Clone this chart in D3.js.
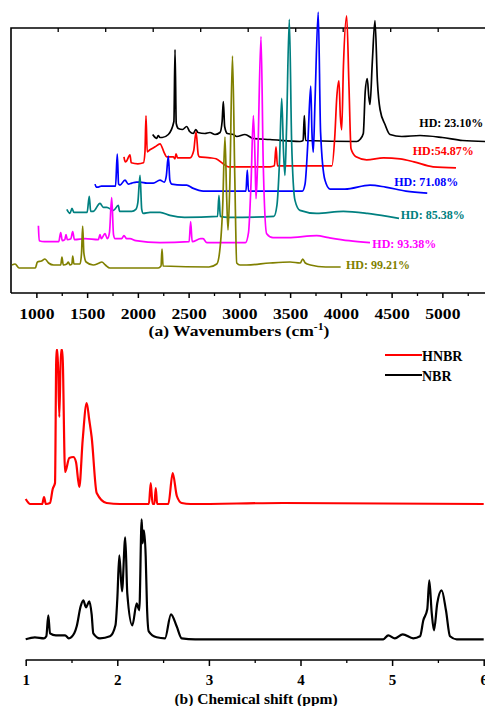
<!DOCTYPE html>
<html>
<head>
<meta charset="utf-8">
<script src="https://cdn.jsdelivr.net/npm/d3@7"></script>
<style>
    body { margin: 0; background: #fff; }
    svg { display: block; font-family: "Liberation Serif", "Times New Roman", serif; font-weight: bold; }
</style>
</head>
<body>
<div id="chart"></div>
<script>
// FTIR spectra, [wavenumber (cm-1), absorbance above the trace's own baseline]
const hd9921 = [[760, 3], [790, 4], [830, 0], [990, 0], [1010, 6], [1050, 7], [1085, 9], [1120, 5], [1170, 3], [1240, 3],
    [1252, 11], [1265, 3], [1300, 4], [1315, 6], [1330, 3], [1350, 4], [1358, 12], [1370, 4], [1430, 4], [1445, 15],
    [1456, 42], [1468, 15], [1490, 6], [1560, 3], [1620, 5], [1645, 6], [1680, 3], [1725, 0], [2200, 0], [2228, 2],
    [2238, 19], [2248, 2], [2700, 1], [2777, 4], [2800, 12], [2835, 60], [2858, 131], [2875, 70], [2888, 38], [2905, 80],
    [2932, 212], [2955, 90], [2974, 5], [3006, 3], [3072, 3], [3300, 5], [3500, 6], [3600, 5], [3624, 9], [3650, 5],
    [3700, 3], [3850, 1], [3998, 1]];
const hd9338 = [[740, 17], [748, 2], [800, 1], [940, 1], [960, 10], [975, 2], [1000, 3], [1012, 8], [1025, 3], [1060, 4],
    [1078, 11], [1095, 3], [1200, 4], [1330, 3], [1347, 8], [1360, 4], [1396, 9], [1420, 4], [1440, 10], [1462, 45],
    [1480, 8], [1495, 4], [1560, 4], [1583, 7], [1610, 4], [1642, 4], [1700, 2], [1938, 0], [2225, 1], [2240, 21],
    [2255, 1], [2339, 4], [2362, 4], [2400, 0], [2780, 0], [2810, 10], [2835, 60], [2858, 127], [2875, 80], [2884, 44],
    [2900, 80], [2933, 206], [2955, 80], [2989, 9], [3051, 5], [3200, 5], [3482, 7], [3600, 5], [3800, 2], [4007, 0]];
const hd8538 = [[740, 8], [771, 4], [791, 9], [810, 5], [940, 5], [961, 21], [975, 6], [1000, 6], [1067, 14], [1100, 10],
    [1133, 10], [1200, 7], [1247, 12], [1260, 6], [1380, 6], [1420, 8], [1440, 15], [1461, 42], [1478, 8], [1493, 4],
    [1560, 5], [1658, 5], [1756, 2], [1900, 0], [2225, 1], [2239, 22], [2252, 1], [2331, 0], [2780, 1], [2810, 12],
    [2835, 55], [2857, 119], [2875, 65], [2889, 42], [2905, 90], [2932, 198], [2955, 75], [2988, 17], [3037, 7], [3200, 4],
    [3464, 6], [3700, 4], [3900, 1], [4013, -1]];
const hd7108 = [[738, 8], [750, 5], [770, 5], [800, 6], [940, 6], [957, 38], [970, 8], [984, 7], [1033, 12], [1066, 8],
    [1100, 9], [1148, 10], [1181, 10], [1250, 9], [1312, 9], [1378, 12], [1420, 10], [1440, 16], [1460, 36], [1475, 12],
    [1493, 8], [1600, 7], [1641, 7], [1700, 4], [1805, 1], [2225, 1], [2238, 22], [2250, 1], [2780, 1], [2807, 8],
    [2835, 50], [2863, 106], [2875, 60], [2888, 40], [2905, 90], [2937, 180], [2960, 60], [3003, 12], [3053, 3], [3200, 3],
    [3447, 7], [3600, 5], [3800, 1], [4011, -1]];
const hd5487 = [[743, 10], [755, 5], [770, 6], [802, 12], [815, 4], [880, 3], [935, 4], [950, 15], [960, 51], [972, 15],
    [999, 17], [1050, 20], [1098, 23], [1140, 14], [1164, 10], [1229, 10], [1245, 8], [1256, 13], [1270, 9], [1394, 9],
    [1430, 16], [1453, 35], [1475, 12], [1485, 10], [1591, 9], [1650, 8], [1720, 3], [1771, 0], [2182, 0], [2225, 1],
    [2241, 20], [2255, 1], [2792, 1], [2820, 30], [2840, 70], [2861, 86], [2875, 50], [2888, 37], [2905, 100], [2937, 151],
    [2960, 80], [2980, 18], [3029, 10], [3134, 7], [3300, 9], [3463, 8], [3600, 5], [3788, 0], [4014, -1]];
const hd2310 = [[746, 7], [770, 4], [785, 3], [800, 6], [818, 4], [840, 4], [900, 7], [955, 20], [966, 92], [978, 18],
    [998, 13], [1040, 12], [1081, 15], [1110, 10], [1146, 8], [1170, 12], [1192, 9], [1260, 8], [1310, 9], [1360, 7],
    [1409, 9], [1430, 20], [1442, 40], [1455, 15], [1481, 8], [1540, 7], [1574, 5], [1655, 7], [1737, 3], [1902, 2],
    [2197, 0], [2228, 1], [2240, 26], [2252, 1], [2756, 0], [2788, 2], [2821, 8], [2840, 50], [2860, 63], [2875, 45],
    [2887, 37], [2910, 80], [2936, 121], [2960, 60], [2986, 32], [3035, 17], [3084, 7], [3200, 5], [3380, 6], [3600, 4],
    [3800, 1], [4020, 0]];

// bottom trace first
const irSeries = [hd9921, hd9338, hd8538, hd7108, hd5487, hd2310];
const irLabels = ["HD: 99.21%", "HD: 93.38%", "HD: 85.38%", "HD: 71.08%", "HD:54.87%", "HD: 23.10%"];
const irColors = ["#808000", "#ff00ff", "#008080", "#0000ff", "#ff0000", "#000000"];
const irTicks = [1000, 1500, 2000, 2500, 3000, 3500, 4000, 4500, 5000];

// 1H NMR, [chemical shift (ppm), intensity]
const hnbr = [[1.0, 5], [1.05, 0], [1.18, 0], [1.2, 7], [1.22, 0], [1.265, 1], [1.295, 15], [1.32, 21], [1.335, 154],
    [1.348, 154], [1.367, 87], [1.385, 154], [1.4, 154], [1.43, 32], [1.476, 46], [1.52, 47], [1.549, 42], [1.585, 17],
    [1.622, 64], [1.666, 101], [1.694, 84], [1.72, 67], [1.775, 11], [1.884, 1], [2.03, 0], [2.345, 0], [2.365, 21],
    [2.385, 0], [2.405, 0], [2.42, 16], [2.435, 0], [2.557, 0], [2.605, 31], [2.65, 8], [2.703, 1], [2.8, 0], [3.81, 1],
    [6.0, 0]];
const nbr = [[1.0, 0], [1.1, 2], [1.2, 1], [1.225, 3], [1.247, 24], [1.265, 6], [1.33, 4], [1.43, 4], [1.47, 1], [1.53, 6],
    [1.557, 13], [1.6, 33], [1.629, 39], [1.658, 32], [1.694, 38], [1.72, 25], [1.738, 6], [1.811, 1], [1.92, 3], [1.98, 14],
    [2.0, 40], [2.022, 84], [2.051, 48], [2.087, 102], [2.109, 46], [2.164, 14], [2.212, 36], [2.223, 33], [2.24, 29],
    [2.266, 120], [2.277, 96], [2.291, 109], [2.31, 83], [2.324, 33], [2.343, 8], [2.43, 2], [2.521, 1], [2.586, 25],
    [2.648, 13], [2.703, 1], [2.85, 0], [4.904, 0], [4.958, 4], [5.03, 1], [5.116, 5], [5.231, 1], [5.305, 3], [5.341, 19],
    [5.384, 30], [5.406, 59], [5.432, 27], [5.457, 9], [5.493, 36], [5.541, 49], [5.588, 29], [5.632, 3], [5.705, 0],
    [6.0, 0]];
const nmrNames = ["HNBR", "NBR"];
const nmrColors = ["#ff0000", "#000000"];
const nmrTicks = [1, 2, 3, 4, 5, 6];

const svg = d3.select("#chart")
    .append("svg")
    .attr("width", 485)
    .attr("height", 706);

// ---------- (a) FTIR waterfall ----------
const x = d3.scaleLinear().domain([750, 5420]).range([11, 485]);
const y = d3.scaleLinear().domain([0, 265]).range([293, 28]);
// mirrored ticks on the top frame sit on a slightly different spacing
const xTop = d3.scaleLinear().domain([1000, 5000]).range([57.7, 437.7]);

const stepX = 280, stepY = 25.3, baseY = 25;

// frame
svg.append("path")
    .attr("d", "M11,293V28H486M11,293H486")
    .attr("fill", "none")
    .attr("stroke", "#000")
    .attr("stroke-width", 1.6);

// bottom axis: major + minor ticks
const gx = svg.append("g")
    .attr("transform", "translate(0,293)")
    .call(d3.axisBottom(x).tickValues(irTicks).tickSize(5).tickPadding(10).tickFormat(d3.format("d")));
gx.select(".domain").remove();
gx.selectAll("line").attr("stroke-width", 1.5);
gx.selectAll("text")
    .attr("font-size", 15)
    .attr("font-family", "Liberation Serif")
    .attr("font-weight", "bold")
    .attr("transform", "scale(1.17,1)");
svg.append("g")
    .attr("transform", "translate(0,293)")
    .call(d3.axisBottom(x).tickValues(d3.range(1250, 5420, 500)).tickSize(3).tickFormat(""))
    .call(g => g.select(".domain").remove())
    .selectAll("line").attr("stroke-width", 1.3);

// top frame ticks pointing inward
svg.append("g")
    .attr("transform", "translate(0,28)")
    .call(d3.axisBottom(xTop).tickValues(d3.range(1000, 5600, 500)).tickSize(4).tickFormat(""))
    .call(g => g.select(".domain").remove())
    .selectAll("line").attr("stroke-width", 1.3);

// axis title
const titleA = svg.append("text")
    .attr("text-anchor", "middle")
    .attr("transform", "translate(239,336) scale(1.17,1)")
    .attr("font-size", 15);
titleA.append("tspan").text("(a) Wavenumbers (cm");
titleA.append("tspan").attr("font-size", 10).attr("dy", -6).text("-1");
titleA.append("tspan").attr("dy", 6).text(")");

// spectra, top trace drawn first so the lower traces sit in front
d3.range(irSeries.length - 1, -1, -1).forEach(k => {
    const line = d3.line()
        .x(d => x(d[0] + k * stepX))
        .y(d => y(d[1] + baseY + k * stepY))
        .curve(d3.curveMonotoneX);
    svg.append("path")
        .datum(irSeries[k])
        .attr("fill", "none")
        .attr("stroke", irColors[k])
        .attr("stroke-width", 1.7)
        .attr("stroke-linejoin", "round")
        .attr("d", line);
});

// sample labels (wavenumber / absorbance anchor of each label)
const labelWn = [4050, 4310, 4589, 4526, 4708, 4773];
const labelV = [23.7, 45.3, 74, 107, 137.7, 166.3];
irLabels.forEach((t, k) => {
    svg.append("text")
        .attr("x", x(labelWn[k]))
        .attr("y", y(labelV[k]))
        .attr("font-size", 12)
        .attr("fill", irColors[k])
        .text(t);
});

// ---------- (b) 1H NMR ----------
const x2 = d3.scaleLinear().domain([1, 6]).range([25.7, 483.7]);
const y2 = d3.scaleLinear().domain([0, 310]).range([660, 350]);
const nmrOffset = [156, 20.7];

[hnbr, nbr].forEach((s, i) => {
    const line = d3.line()
        .x(d => x2(d[0]))
        .y(d => y2(d[1] + nmrOffset[i]))
        .curve(d3.curveMonotoneX);
    svg.append("path")
        .datum(s)
        .attr("fill", "none")
        .attr("stroke", nmrColors[i])
        .attr("stroke-width", 2.2)
        .attr("stroke-linejoin", "round")
        .attr("d", line);
});

svg.append("line")
    .attr("x1", x2(1)).attr("x2", 486)
    .attr("y1", 660).attr("y2", 660)
    .attr("stroke", "#000")
    .attr("stroke-width", 1.6);
const gx2 = svg.append("g")
    .attr("transform", "translate(0,660)")
    .call(d3.axisBottom(x2).tickValues(nmrTicks).tickSize(6).tickPadding(8).tickFormat(d3.format("d")));
gx2.select(".domain").remove();
gx2.selectAll("line").attr("stroke-width", 1.5);
gx2.selectAll("text")
    .attr("font-size", 15)
    .attr("font-family", "Liberation Serif")
    .attr("font-weight", "bold");
svg.append("g")
    .attr("transform", "translate(0,660)")
    .call(d3.axisBottom(x2).tickValues(d3.range(1.5, 6, 1)).tickSize(3).tickFormat(""))
    .call(g => g.select(".domain").remove())
    .selectAll("line").attr("stroke-width", 1.3);

svg.append("text")
    .attr("text-anchor", "middle")
    .attr("x", 256)
    .attr("y", 704)
    .attr("font-size", 15.5)
    .text("(b) Chemical shift (ppm)");

// legend
nmrNames.forEach((n, i) => {
    const ly = 355 + i * 20;
    svg.append("line")
        .attr("x1", 385).attr("x2", 422)
        .attr("y1", ly).attr("y2", ly)
        .attr("stroke", nmrColors[i])
        .attr("stroke-width", 2);
    svg.append("text")
        .attr("x", 422)
        .attr("y", ly + 5.5)
        .attr("font-size", 14)
        .text(n);
});
</script>
</body>
</html>
